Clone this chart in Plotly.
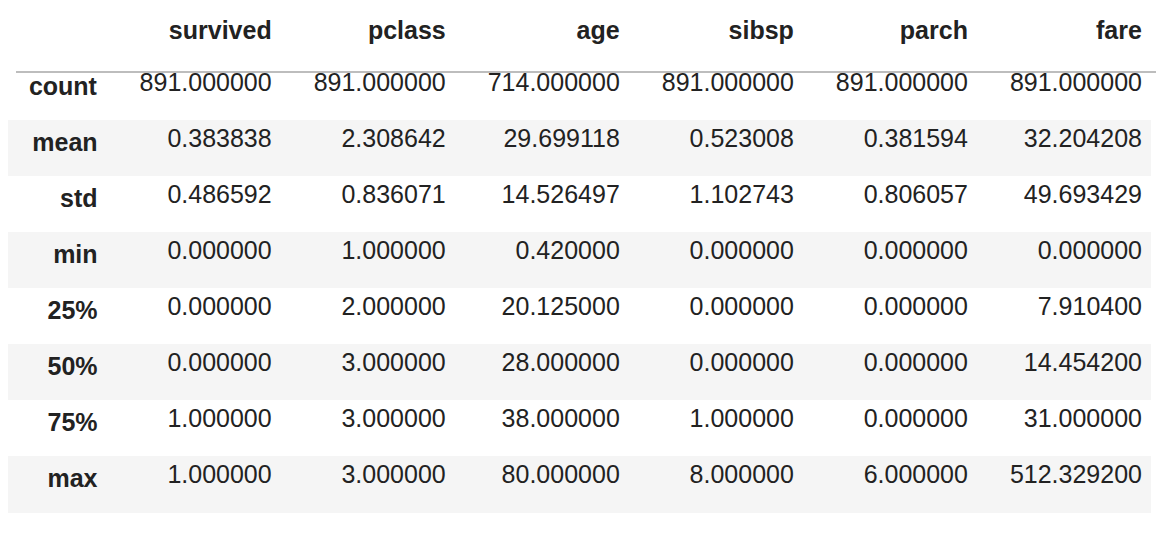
import plotly.graph_objects as go

columns = ["survived", "pclass", "age", "sibsp", "parch", "fare"]
index = ["count", "mean", "std", "min", "25%", "50%", "75%", "max"]
survived = [891.0, 0.383838, 0.486592, 0.0, 0.0, 0.0, 1.0, 1.0]
pclass = [891.0, 2.308642, 0.836071, 1.0, 2.0, 3.0, 3.0, 3.0]
age = [714.0, 29.699118, 14.526497, 0.42, 20.125, 28.0, 38.0, 80.0]
sibsp = [891.0, 0.523008, 1.102743, 0.0, 0.0, 0.0, 1.0, 8.0]
parch = [891.0, 0.381594, 0.806057, 0.0, 0.0, 0.0, 0.0, 6.0]
fare = [891.0, 32.204208, 49.693429, 0.0, 7.9104, 14.4542, 31.0, 512.3292]

series = [survived, pclass, age, sibsp, parch, fare]
W, H = 1164, 536
row_fill = ["#ffffff" if i % 2 == 0 else "#f5f5f5" for i in range(len(index))]

cells = [["<b>%s</b>" % r for r in index]] + [["%.6f" % v for v in s] for s in series]

fig = go.Figure(go.Table(
    columnwidth=[97] + [173] * 6,
    header=dict(values=[""] + ["<b>%s</b>" % c for c in columns],
                align="right", height=56, fill_color="white",
                line=dict(width=1, color="white"),
                font=dict(family="Liberation Sans", size=25, color="#222222")),
    cells=dict(values=cells, align="right", height=56,
               fill_color=[row_fill] * 7,
               line=dict(width=1, color=[row_fill] * 7),
               font=dict(family="Liberation Sans", size=25, color="#222222")),
    domain=dict(x=[0, 1142 / W], y=[0, 1]),
))
fig.add_shape(type="line", xref="paper", yref="paper",
              x0=8 / W, x1=1150 / W, y0=1 - 64 / H, y1=1 - 64 / H,
              line=dict(color="#bdbdbd", width=2))
fig.update_layout(width=W, height=H, margin=dict(l=0, r=0, t=0, b=0),
                  paper_bgcolor="white")
fig.write_html("out.html")
